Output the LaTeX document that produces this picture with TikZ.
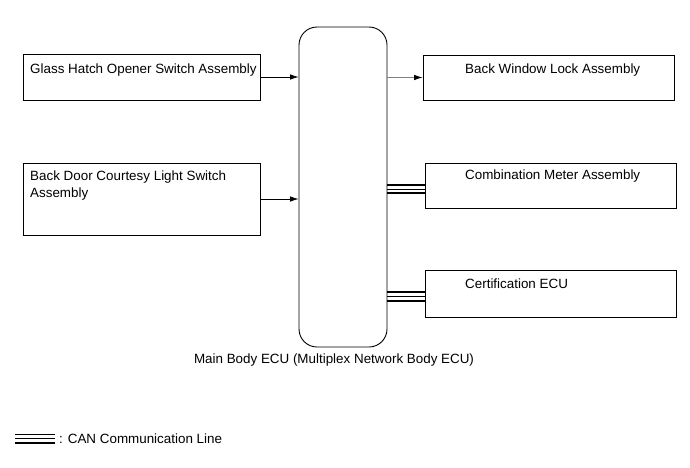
\documentclass[tikz,border=0pt]{standalone}
\usepackage{fontspec}
\setmainfont{Liberation Sans}
\usetikzlibrary{arrows.meta}
\begin{document}
\begin{tikzpicture}[x=1pt,y=-1pt,
  txt/.style={font=\fontsize{13.4}{16.5}\selectfont, inner sep=0pt},
  blk/.style={draw, line width=0.9pt},
  sig/.style={line width=0.7pt, -{Latex[length=8.5pt,width=5.5pt]}}]
\useasboundingbox (0,0) rectangle (690,467);
% boxes
\node[blk, minimum width=237pt, minimum height=46pt, inner sep=0pt] (gh) at (141.5,77) {};
\node[txt, anchor=west] (ght) at (30,70) {Glass Hatch Opener Switch Assembly};
\node[blk, minimum width=237pt, minimum height=72pt, inner sep=0pt] (bd) at (141.5,199) {};
\node[txt, anchor=north west, align=left] (bdt) at (30,171) {Back Door Courtesy Light Switch\\Assembly};
\node[blk, rounded corners=18pt, minimum width=88pt, minimum height=320pt, inner sep=0pt] (ecu) at (343,187) {};
\node[txt] (ecut) at (334,360) {Main Body ECU (Multiplex Network Body ECU)};
\node[blk, minimum width=251pt, minimum height=45pt, inner sep=0pt] (bw) at (548.5,77.5) {};
\node[txt, anchor=west] (bwt) at (465,70) {Back Window Lock Assembly};
\node[blk, minimum width=251pt, minimum height=45pt, inner sep=0pt] (cm) at (550.5,185.5) {};
\node[txt, anchor=west] (cmt) at (465,176) {Combination Meter Assembly};
\node[blk, minimum width=251pt, minimum height=47pt, inner sep=0pt] (ce) at (550.5,293.5) {};
\node[txt, anchor=west] (cet) at (465,284) {Certification ECU};
% connectors
\draw[sig] (gh.east) -- (ecu.west |- gh.east);
\draw[sig] (bd.east) -- (ecu.west |- bd.east);
\draw[sig, draw=black!50, -{Latex[length=8.5pt,width=5.5pt,color=black]}] (ecu.east |- bw.west) -- (bw.west);
\draw[line width=1.6pt] (ecu.east |- 0,185) -- (cm.west |- 0,185);
\draw[line width=1.1pt] (ecu.east |- 0,189.3) -- (cm.west |- 0,189.3);
\draw[line width=1.1pt] (ecu.east |- 0,193) -- (cm.west |- 0,193);
\draw[line width=1.1pt] (ecu.east |- 0,292) -- (ce.west |- 0,292);
\draw[line width=1.1pt] (ecu.east |- 0,296.3) -- (ce.west |- 0,296.3);
\draw[line width=1.6pt] (ecu.east |- 0,300.7) -- (ce.west |- 0,300.7);
% legend
\coordinate (l1) at (15,434.5);
\coordinate (l2) at (55,434.5);
\coordinate (l3) at (15,438.7);
\coordinate (l4) at (55,438.7);
\coordinate (l5) at (15,442.8);
\coordinate (l6) at (55,442.8);
\draw[line width=1.1pt] (l1) -- (l2);
\draw[line width=1.1pt] (l3) -- (l4);
\draw[line width=1.6pt] (l5) -- (l6);
\node[txt, anchor=west] (leg) at (59,438.5) {: CAN Communication Line};
\end{tikzpicture}
\end{document}
